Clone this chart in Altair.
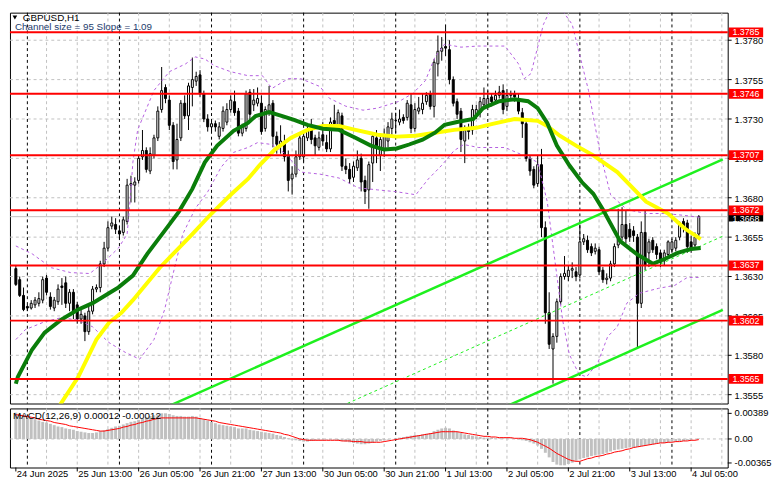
import altair as alt
import pandas as pd

# ---------------- data ----------------
OPEN = [1.3635, 1.3628, 1.3618, 1.3611, 1.3610, 1.3612, 1.3613, 1.3615, 1.3629, 1.3617,
        1.3610, 1.3614, 1.3624, 1.3626, 1.3613, 1.3620, 1.3612, 1.3603, 1.3605, 1.3595,
        1.3608, 1.3622, 1.3623, 1.3638, 1.3648, 1.3662, 1.3663, 1.3659, 1.3658, 1.3665,
        1.3688, 1.3688, 1.3691, 1.3706, 1.3710, 1.3697, 1.3707, 1.3718, 1.3736, 1.3750,
        1.3742, 1.3726, 1.3704, 1.3718, 1.3740, 1.3732, 1.3750, 1.3754, 1.3758, 1.3746,
        1.3730, 1.3725, 1.3727, 1.3719, 1.3724, 1.3728, 1.3736, 1.3741, 1.3735, 1.3721,
        1.3724, 1.3747, 1.3739, 1.3740, 1.3740, 1.3724, 1.3734, 1.3740, 1.3719, 1.3714,
        1.3715, 1.3707, 1.3692, 1.3695, 1.3706, 1.3706, 1.3718, 1.3724, 1.3718, 1.3712,
        1.3720, 1.3715, 1.3711, 1.3729, 1.3726, 1.3732, 1.3700, 1.3698, 1.3693, 1.3699,
        1.3705, 1.3691, 1.3685, 1.3702, 1.3718, 1.3707, 1.3711, 1.3716, 1.3724, 1.3729,
        1.3728, 1.3731, 1.3731, 1.3739, 1.3724, 1.3735, 1.3736, 1.3741, 1.3746, 1.3738,
        1.3765, 1.3773, 1.3776, 1.3774, 1.3755, 1.3741, 1.3735, 1.3716, 1.3724, 1.3723,
        1.3732, 1.3734, 1.3739, 1.3739, 1.3744, 1.3742, 1.3745, 1.3748, 1.3738, 1.3745,
        1.3746, 1.3743, 1.3734, 1.3727, 1.3705, 1.3698, 1.3689, 1.3701, 1.3661, 1.3607,
        1.3584, 1.3592, 1.3614, 1.3630, 1.3630, 1.3634, 1.3633, 1.3631, 1.3652, 1.3653,
        1.3649, 1.3646, 1.3647, 1.3634, 1.3628, 1.3629, 1.3638, 1.3650, 1.3655, 1.3663,
        1.3660, 1.3659, 1.3655, 1.3613, 1.3658, 1.3645, 1.3653, 1.3649, 1.3645, 1.3640,
        1.3644, 1.3647, 1.3648, 1.3655, 1.3665, 1.3664, 1.3652, 1.3650, 1.3657]
HIGH = [1.3637, 1.3630, 1.3623, 1.3612, 1.3615, 1.3617, 1.3620, 1.3630, 1.3631, 1.3620,
        1.3617, 1.3625, 1.3629, 1.3630, 1.3622, 1.3622, 1.3614, 1.3610, 1.3607, 1.3611,
        1.3624, 1.3625, 1.3640, 1.3652, 1.3665, 1.3668, 1.3667, 1.3662, 1.3668, 1.3692,
        1.3694, 1.3693, 1.3707, 1.3723, 1.3712, 1.3712, 1.3720, 1.3738, 1.3763, 1.3752,
        1.3745, 1.3728, 1.3727, 1.3742, 1.3745, 1.3753, 1.3769, 1.3760, 1.3761, 1.3748,
        1.3733, 1.3729, 1.3729, 1.3728, 1.3738, 1.3740, 1.3745, 1.3748, 1.3737, 1.3727,
        1.3748, 1.3749, 1.3749, 1.3750, 1.3745, 1.3738, 1.3751, 1.3742, 1.3722, 1.3726,
        1.3720, 1.3710, 1.3700, 1.3710, 1.3720, 1.3722, 1.3726, 1.3730, 1.3720, 1.3722,
        1.3728, 1.3720, 1.3731, 1.3739, 1.3736, 1.3734, 1.3705, 1.3702, 1.3703, 1.3710,
        1.3708, 1.3694, 1.3703, 1.3721, 1.3723, 1.3720, 1.3724, 1.3728, 1.3734, 1.3734,
        1.3736, 1.3733, 1.3742, 1.3746, 1.3740, 1.3744, 1.3746, 1.3747, 1.3748, 1.3768,
        1.3783, 1.3782, 1.3790, 1.3780, 1.3757, 1.3743, 1.3737, 1.3726, 1.3727, 1.3739,
        1.3739, 1.3744, 1.3750, 1.3748, 1.3746, 1.3748, 1.3751, 1.3752, 1.3749, 1.3748,
        1.3748, 1.3746, 1.3737, 1.3729, 1.3707, 1.3700, 1.3707, 1.3711, 1.3665, 1.3620,
        1.3594, 1.3616, 1.3632, 1.3643, 1.3637, 1.3639, 1.3636, 1.3663, 1.3657, 1.3656,
        1.3651, 1.3651, 1.3649, 1.3636, 1.3632, 1.3640, 1.3651, 1.3673, 1.3674, 1.3672,
        1.3664, 1.3662, 1.3657, 1.3665, 1.3672, 1.3654, 1.3655, 1.3651, 1.3647, 1.3647,
        1.3653, 1.3654, 1.3655, 1.3665, 1.3667, 1.3666, 1.3656, 1.3658, 1.3669]
LOW = [1.3624, 1.3617, 1.3608, 1.3608, 1.3609, 1.3610, 1.3611, 1.3613, 1.3618, 1.3609,
       1.3608, 1.3612, 1.3612, 1.3610, 1.3608, 1.3603, 1.3600, 1.3600, 1.3589, 1.3593,
       1.3606, 1.3620, 1.3620, 1.3636, 1.3646, 1.3660, 1.3657, 1.3654, 1.3656, 1.3663,
       1.3677, 1.3677, 1.3689, 1.3704, 1.3696, 1.3695, 1.3705, 1.3716, 1.3734, 1.3740,
       1.3723, 1.3698, 1.3698, 1.3716, 1.3730, 1.3723, 1.3738, 1.3751, 1.3744, 1.3728,
       1.3722, 1.3722, 1.3722, 1.3717, 1.3722, 1.3726, 1.3734, 1.3732, 1.3719, 1.3719,
       1.3722, 1.3728, 1.3735, 1.3738, 1.3720, 1.3722, 1.3732, 1.3712, 1.3708, 1.3708,
       1.3703, 1.3684, 1.3682, 1.3693, 1.3704, 1.3703, 1.3716, 1.3714, 1.3707, 1.3710,
       1.3713, 1.3709, 1.3709, 1.3725, 1.3724, 1.3697, 1.3695, 1.3689, 1.3690, 1.3697,
       1.3684, 1.3676, 1.3673, 1.3690, 1.3702, 1.3697, 1.3706, 1.3712, 1.3720, 1.3721,
       1.3726, 1.3727, 1.3729, 1.3721, 1.3722, 1.3733, 1.3733, 1.3739, 1.3736, 1.3731,
       1.3757, 1.3767, 1.3770, 1.3752, 1.3738, 1.3730, 1.3709, 1.3702, 1.3717, 1.3720,
       1.3730, 1.3731, 1.3736, 1.3737, 1.3738, 1.3740, 1.3743, 1.3733, 1.3735, 1.3742,
       1.3741, 1.3733, 1.3718, 1.3703, 1.3694, 1.3686, 1.3687, 1.3655, 1.3600, 1.3584,
       1.3562, 1.3588, 1.3612, 1.3628, 1.3627, 1.3629, 1.3627, 1.3629, 1.3650, 1.3645,
       1.3643, 1.3644, 1.3631, 1.3626, 1.3625, 1.3627, 1.3636, 1.3648, 1.3653, 1.3651,
       1.3652, 1.3652, 1.3585, 1.3610, 1.3634, 1.3636, 1.3645, 1.3641, 1.3636, 1.3637,
       1.3642, 1.3645, 1.3646, 1.3653, 1.3658, 1.3645, 1.3645, 1.3648, 1.3655]
CLOSE = [1.3625, 1.3618, 1.3609, 1.3610, 1.3613, 1.3615, 1.3616, 1.3628, 1.3620, 1.3611,
         1.3615, 1.3622, 1.3623, 1.3613, 1.3620, 1.3608, 1.3603, 1.3606, 1.3595, 1.3608,
         1.3622, 1.3623, 1.3638, 1.3648, 1.3661, 1.3664, 1.3660, 1.3657, 1.3666, 1.3688,
         1.3689, 1.3690, 1.3705, 1.3710, 1.3698, 1.3708, 1.3718, 1.3735, 1.3748, 1.3743,
         1.3726, 1.3703, 1.3717, 1.3740, 1.3732, 1.3751, 1.3755, 1.3757, 1.3746, 1.3730,
         1.3725, 1.3727, 1.3725, 1.3725, 1.3735, 1.3736, 1.3742, 1.3734, 1.3721, 1.3725,
         1.3746, 1.3733, 1.3742, 1.3743, 1.3722, 1.3736, 1.3739, 1.3719, 1.3714, 1.3716,
         1.3706, 1.3691, 1.3695, 1.3706, 1.3718, 1.3719, 1.3723, 1.3717, 1.3713, 1.3718,
         1.3716, 1.3711, 1.3728, 1.3727, 1.3734, 1.3700, 1.3698, 1.3692, 1.3700, 1.3704,
         1.3690, 1.3684, 1.3701, 1.3719, 1.3712, 1.3717, 1.3719, 1.3725, 1.3730, 1.3729,
         1.3730, 1.3729, 1.3740, 1.3724, 1.3736, 1.3737, 1.3740, 1.3745, 1.3738, 1.3766,
         1.3773, 1.3775, 1.3775, 1.3755, 1.3740, 1.3733, 1.3717, 1.3723, 1.3722, 1.3736,
         1.3736, 1.3741, 1.3743, 1.3743, 1.3741, 1.3745, 1.3747, 1.3736, 1.3745, 1.3746,
         1.3744, 1.3735, 1.3727, 1.3705, 1.3697, 1.3688, 1.3701, 1.3661, 1.3607, 1.3587,
         1.3592, 1.3614, 1.3630, 1.3632, 1.3634, 1.3635, 1.3630, 1.3652, 1.3654, 1.3647,
         1.3645, 1.3648, 1.3633, 1.3628, 1.3629, 1.3638, 1.3649, 1.3654, 1.3663, 1.3654,
         1.3655, 1.3656, 1.3613, 1.3658, 1.3637, 1.3652, 1.3647, 1.3644, 1.3639, 1.3645,
         1.3652, 1.3652, 1.3653, 1.3664, 1.3662, 1.3649, 1.3648, 1.3655, 1.3668]

# dark green moving average (bar index, price)
GREEN_BAR = [0, 0.5, 4.25, 7.5, 11.75, 16, 20, 24.25, 26.75, 30.5, 34.25, 39.25, 42.5, 46,
             49.25, 52.5, 56.75, 60.5, 62.5, 66, 69.25, 72.5, 76, 80, 84.25, 88.5, 92.5, 96,
             99.25, 102.5, 106, 109.25, 111.75, 115, 119.25, 121.75, 126, 130, 133.5, 136,
             138.5, 141, 144.25, 147.5, 150.5, 153, 157.5, 161.75, 166, 169.25, 172.5, 176, 178.5]
GREEN_MA = [1.35619, 1.35662, 1.35837, 1.35944, 1.36025, 1.36087, 1.36131, 1.36194, 1.36231,
            1.36306, 1.36444, 1.36606, 1.36712, 1.36856, 1.37025, 1.37131, 1.37225, 1.37275,
            1.37319, 1.37344, 1.37319, 1.37294, 1.37263, 1.37238, 1.37231, 1.37181, 1.37131,
            1.37106, 1.37113, 1.37138, 1.37169, 1.37213, 1.37263, 1.37281, 1.37300, 1.37369,
            1.37413, 1.37425, 1.37413, 1.37369, 1.37275, 1.37131, 1.37006, 1.36900, 1.36825,
            1.36725, 1.36525, 1.36444, 1.36381, 1.36413, 1.36450, 1.36475, 1.36481]
# yellow moving average
YELLOW_BAR = [10.5, 11.75, 16.25, 21, 24.25, 27.5, 30.5, 37.5, 46, 51, 56, 60.5, 63.5, 67.5,
              71.75, 76, 80, 84.25, 88.5, 94.25, 99.25, 104.25, 109.25, 114.25, 120, 124.25,
              130, 136, 138.5, 141.75, 146, 150.5, 156.75, 164.25, 170, 174.25, 178.5]
YELLOW_MA = [1.35431, 1.35494, 1.35662, 1.35900, 1.36006, 1.36069, 1.36150, 1.36356, 1.36569,
             1.36700, 1.36819, 1.36919, 1.37006, 1.37106, 1.37181, 1.37231, 1.37256, 1.37256,
             1.37231, 1.37200, 1.37188, 1.37194, 1.37213, 1.37231, 1.37244, 1.37269, 1.37300,
             1.37288, 1.37256, 1.37194, 1.37131, 1.37069, 1.36963, 1.36775, 1.36700, 1.36606,
             1.36538]
# Bollinger bands (violet dashed)
BB_UP_BAR = [0, 4.25, 9.25, 14.25, 19.25, 22.5, 26.75, 29, 29.75, 30.5, 31.75, 36, 40, 44.25,
             46.75, 49.25, 51.75, 56, 60.5, 64.25, 66.75, 71, 74.25, 79.25, 81.75, 86, 90.5,
             94.25, 100, 103.5, 106.75, 109.25, 111.75, 116, 120.5, 127.5, 131, 132.5, 134.25,
             137.5, 140.5, 145, 149.25, 152.25, 155, 159.25, 164.25, 169.25, 174.25, 178.5]
BB_UP = [1.36494, 1.36444, 1.36356, 1.36325, 1.36319, 1.36381, 1.36481, 1.36569, 1.36775,
         1.37025, 1.37231, 1.37481, 1.37600, 1.37650, 1.37694, 1.37681, 1.37638, 1.37600,
         1.37575, 1.37575, 1.37494, 1.37556, 1.37556, 1.37506, 1.37431, 1.37381, 1.37356,
         1.37369, 1.37413, 1.37463, 1.37544, 1.37694, 1.37775, 1.37756, 1.37763, 1.37763,
         1.37650, 1.37556, 1.37588, 1.37900, 1.38056, 1.37900, 1.37481, 1.37088, 1.36819,
         1.36725, 1.36700, 1.36700, 1.36688, 1.36675]
BB_LO_BAR = [0, 2.5, 7.5, 11.75, 16, 20, 24.25, 28.5, 32.25, 36, 38.75, 41, 43.5, 46.75, 50,
             53.5, 56.75, 60.5, 63, 66.75, 70.5, 74.25, 79.25, 84.25, 89.25, 94.25, 99.25,
             104.25, 107.5, 111, 114.25, 116.75, 120.5, 127.5, 133.5, 136, 138.5, 140.5, 142.5,
             144.25, 146.75, 148.75, 151.75, 154.25, 156.75, 159.25, 162.5, 167.5, 171.75, 175,
             178.5]
BB_LO = [1.35900, 1.35963, 1.36013, 1.36038, 1.36025, 1.35981, 1.35881, 1.35819, 1.35775,
         1.35900, 1.36088, 1.36319, 1.36569, 1.36731, 1.36838, 1.36994, 1.37088, 1.37119,
         1.37150, 1.37138, 1.37075, 1.36963, 1.36950, 1.36925, 1.36863, 1.36850, 1.36838,
         1.36819, 1.36919, 1.37006, 1.37100, 1.37138, 1.37119, 1.37119, 1.37056, 1.37025,
         1.36775, 1.36400, 1.36025, 1.35806, 1.35681, 1.35663, 1.35756, 1.35919, 1.35981,
         1.36131, 1.36194, 1.36225, 1.36244, 1.36294, 1.36294]
# linear regression channel end points
CHANNEL_BAR = [40, 184.25]
CHANNEL_UPPER = [1.35479, 1.37044]
CHANNEL_MID = [1.34991, 1.36556]
CHANNEL_LOWER = [1.34523, 1.36088]

LEVELS = [1.3785, 1.3746, 1.3707, 1.3672, 1.3637, 1.3602, 1.3565]
LAST_PRICE = 1.3668

MACD_HIST = [0.0040, 0.0038, 0.0036, 0.0034, 0.0032, 0.0030, 0.0028, 0.0026,
             0.0025, 0.0023, 0.0021, 0.0019, 0.0018, 0.0016, 0.0015, 0.0014,
             0.0012, 0.0011, 0.0010, 0.0009, 0.0009, 0.0010, 0.0012, 0.0013,
             0.0015, 0.0017, 0.0019, 0.0020, 0.0022, 0.0024, 0.0026, 0.0027,
             0.0029, 0.0031, 0.0033, 0.0035, 0.0036, 0.0037, 0.0039, 0.0039,
             0.0038, 0.0036, 0.0035, 0.0035, 0.0034, 0.0034, 0.0035, 0.0034,
             0.0032, 0.0030, 0.0028, 0.0026, 0.0024, 0.0022, 0.0021, 0.0020,
             0.0019, 0.0018, 0.0016, 0.0016, 0.0016, 0.0014, 0.0013, 0.0012,
             0.0011, 0.0010, 0.0009, 0.0008, 0.0006, 0.0005, 0.0003, 0.0001,
             -0.0001, -0.0002, -0.0003, -0.0004, -0.0004, -0.0003, -0.0002, -0.0001,
             -0.0001, -0.0001, -0.0001, -0.0001, -0.0002, -0.0003, -0.0004, -0.0005,
             -0.0006, -0.0007, -0.0008, -0.0008, -0.0007, -0.0006, -0.0004, -0.0003,
             -0.0002, -0.0001, 0.0000, 0.0001, 0.0002, 0.0003, 0.0004, 0.0005,
             0.0006, 0.0006, 0.0007, 0.0008, 0.0009, 0.0012, 0.0014, 0.0016,
             0.0017, 0.0016, 0.0013, 0.0011, 0.0009, 0.0007, 0.0006, 0.0005,
             0.0004, 0.0003, 0.0002, 0.0002, 0.0002, 0.0001, 0.0001, 0.0001,
             0.0001, 0.0001, 0.0000, -0.0001, -0.0002, -0.0003, -0.0005, -0.0007,
             -0.0010, -0.0015, -0.0021, -0.0028, -0.0035, -0.0039, -0.0040, -0.0040,
             -0.0038, -0.0036, -0.0033, -0.0031, -0.0029, -0.0028, -0.0026, -0.0025,
             -0.0024, -0.0023, -0.0021, -0.0019, -0.0017, -0.0016, -0.0015, -0.0014,
             -0.0013, -0.0013, -0.0012, -0.0011, -0.0010, -0.0009, -0.0008, -0.0007,
             -0.0006, -0.0006, -0.0005, -0.0004, -0.0004, -0.0003, -0.0003, -0.0002,
             -0.0001, 0.0000, 0.0001]
MACD_SIGNAL = [0.0037, 0.0036, 0.0035, 0.0034, 0.0033, 0.0032, 0.0030, 0.0029,
               0.0028, 0.0027, 0.0025, 0.0024, 0.0023, 0.0022, 0.0020, 0.0019,
               0.0018, 0.0017, 0.0016, 0.0015, 0.0014, 0.0013, 0.0012, 0.0012,
               0.0013, 0.0014, 0.0015, 0.0016, 0.0018, 0.0019, 0.0021, 0.0022,
               0.0024, 0.0025, 0.0027, 0.0028, 0.0030, 0.0031, 0.0032, 0.0032,
               0.0032, 0.0032, 0.0032, 0.0032, 0.0032, 0.0032, 0.0032, 0.0032,
               0.0031, 0.0030, 0.0029, 0.0028, 0.0027, 0.0025, 0.0024, 0.0023,
               0.0022, 0.0021, 0.0020, 0.0019, 0.0018, 0.0017, 0.0016, 0.0015,
               0.0014, 0.0013, 0.0012, 0.0011, 0.0010, 0.0009, 0.0007, 0.0006,
               0.0004, 0.0002, 0.0000, -0.0001, -0.0002, -0.0002, -0.0002, -0.0002,
               -0.0002, -0.0002, -0.0002, -0.0002, -0.0002, -0.0003, -0.0003, -0.0003,
               -0.0004, -0.0004, -0.0004, -0.0005, -0.0005, -0.0005, -0.0005, -0.0005,
               -0.0004, -0.0003, -0.0002, -0.0001, 0.0000, 0.0001, 0.0002, 0.0003,
               0.0004, 0.0005, 0.0006, 0.0007, 0.0008, 0.0009, 0.0010, 0.0011,
               0.0011, 0.0011, 0.0011, 0.0011, 0.0010, 0.0009, 0.0008, 0.0007,
               0.0006, 0.0005, 0.0004, 0.0004, 0.0003, 0.0003, 0.0002, 0.0002,
               0.0002, 0.0002, 0.0001, 0.0001, 0.0001, 0.0000, -0.0001, -0.0003,
               -0.0005, -0.0008, -0.0011, -0.0014, -0.0018, -0.0022, -0.0025, -0.0028,
               -0.0031, -0.0033, -0.0034, -0.0034, -0.0032, -0.0030, -0.0029, -0.0027,
               -0.0026, -0.0025, -0.0023, -0.0022, -0.0020, -0.0019, -0.0018, -0.0016,
               -0.0015, -0.0013, -0.0012, -0.0011, -0.0010, -0.0009, -0.0008, -0.0007,
               -0.0006, -0.0006, -0.0005, -0.0005, -0.0004, -0.0004, -0.0003, -0.0003,
               -0.0002, -0.0002, -0.0001]

X_TICK_BARS = [0, 16, 32, 48, 64, 80, 96, 112, 128, 144, 160, 176]
X_TICK_LABELS = ["24 Jun 2025", "25 Jun 13:00", "26 Jun 05:00", "26 Jun 21:00",
                 "27 Jun 13:00", "30 Jun 05:00", "30 Jun 21:00", "1 Jul 13:00",
                 "2 Jul 05:00", "2 Jul 21:00", "3 Jul 13:00", "4 Jul 05:00"]
GRID_BARS = [8, 16, 24, 32, 40, 48, 56, 64, 72, 80, 88, 96, 104, 112, 120, 128, 136, 144,
             152, 160, 168, 176, 184]
DAY_START_BARS = [3, 27, 51, 75, 99, 123, 147, 171]
Y_TICKS = [1.3555, 1.3580, 1.3605, 1.3630, 1.3655, 1.3680, 1.3705, 1.3730, 1.3755, 1.3780]
MACD_TICKS = [0.00389, 0.0, -0.00365]
MACD_TICK_TEXT = ["0.00389", "0.00", "-0.00365"]

SYMBOL_TITLE = "GBPUSD,H1"
CHANNEL_TITLE = "Channel size = 95 Slope = 1.09"
MACD_TITLE = "MACD(12,26,9) 0.00012 -0.00012"

# ---------------- chart ----------------
FONT = "Liberation Sans"
FS = 9.5
PLOT_W = 729
MAIN_H = 397
MACD_H = 60
GRID_C = "#c0c0c0"
BOX_X1, BOX_X2 = 730, 765
LABEL_X = 736

XS = alt.Scale(domain=[-0.25, 184.25], nice=False, zero=False)
YS = alt.Scale(domain=[1.354938, 1.37975], nice=False, zero=False)
MS = alt.Scale(domain=[-0.004339, 0.004638], nice=False, zero=False)


def xq(field="bar:Q"):
    return alt.X(field, scale=XS, axis=None)


def yq(field, scale=YS):
    return alt.Y(field, scale=scale, axis=None)


candles = pd.DataFrame({"bar": list(range(len(CLOSE))), "open": OPEN, "high": HIGH,
                        "low": LOW, "close": CLOSE})
grid_df = pd.DataFrame({"bar": GRID_BARS})
day_df = pd.DataFrame({"bar": DAY_START_BARS})
ytick_df = pd.DataFrame({"v": Y_TICKS})
levels_df = pd.DataFrame({"level": LEVELS})
last_df = pd.DataFrame({"level": [LAST_PRICE]})
green_df = pd.DataFrame({"bar": GREEN_BAR, "price": GREEN_MA})
yellow_df = pd.DataFrame({"bar": YELLOW_BAR, "price": YELLOW_MA})
bb_df = pd.concat([
    pd.DataFrame({"bar": BB_UP_BAR, "price": BB_UP, "band": "upper"}),
    pd.DataFrame({"bar": BB_LO_BAR, "price": BB_LO, "band": "lower"}),
])
chan_solid = pd.concat([
    pd.DataFrame({"bar": CHANNEL_BAR, "price": CHANNEL_UPPER, "line": "upper"}),
    pd.DataFrame({"bar": CHANNEL_BAR, "price": CHANNEL_LOWER, "line": "lower"}),
])
chan_mid = pd.DataFrame({"bar": CHANNEL_BAR, "price": CHANNEL_MID})
macd_df = pd.DataFrame({"bar": list(range(len(MACD_HIST))), "hist": MACD_HIST,
                        "signal": MACD_SIGNAL})
mtick_df = pd.DataFrame({"v": MACD_TICKS, "t": MACD_TICK_TEXT})
xtick_df = pd.DataFrame({"bar": X_TICK_BARS, "t": X_TICK_LABELS})

# ---- main price panel ----
hgrid = alt.Chart(ytick_df).mark_rule(color=GRID_C, strokeDash=[3, 3], strokeWidth=1).encode(
    y=yq("v:Q"))
vgrid = alt.Chart(grid_df).mark_rule(color=GRID_C, strokeDash=[3, 3], strokeWidth=1).encode(x=xq())
vday = alt.Chart(day_df).mark_rule(color="black", strokeDash=[3, 3], strokeWidth=1).encode(x=xq())
last_line = alt.Chart(last_df).mark_rule(color=GRID_C, strokeWidth=1).encode(y=yq("level:Q"))

wicks = alt.Chart(candles).mark_rule(color="black", strokeWidth=1).encode(
    x=xq(), y=yq("low:Q"), y2="high:Q")
bodies = alt.Chart(candles).mark_bar(size=2, stroke="black", strokeWidth=1).encode(
    x=xq(), y=yq("open:Q"), y2="close:Q",
    fill=alt.condition("datum.close >= datum.open", alt.value("white"), alt.value("black")))

bb = alt.Chart(bb_df).mark_line(clip=True, color="#b45ee0", strokeWidth=1,
                                strokeDash=[3, 3]).encode(
    x=xq(), y=yq("price:Q"), detail="band:N")
chan = alt.Chart(chan_solid).mark_line(clip=True, color="#1ef01e", strokeWidth=2.5).encode(
    x=xq(), y=yq("price:Q"), detail="line:N")
chan_m = alt.Chart(chan_mid).mark_line(clip=True, color="#1ef01e", strokeWidth=1,
                                       strokeDash=[3, 3]).encode(x=xq(), y=yq("price:Q"))
yellow = alt.Chart(yellow_df).mark_line(clip=True, color="#ffff00", strokeWidth=4).encode(
    x=xq(), y=yq("price:Q"))
green = alt.Chart(green_df).mark_line(clip=True, color="#0a7d0a", strokeWidth=4).encode(
    x=xq(), y=yq("price:Q"))
red_lines = alt.Chart(levels_df).mark_rule(color="#ff0000", strokeWidth=2).encode(
    y=yq("level:Q"))

# right-hand price scale (ticks + labels)
ytick_marks = alt.Chart(ytick_df).mark_rule(color="black", strokeWidth=1).encode(
    x=alt.value(PLOT_W), x2=alt.value(PLOT_W + 4), y=yq("v:Q"))
ytick_text = alt.Chart(ytick_df).mark_text(align="left", baseline="middle", fontSize=FS,
                                           font=FONT, color="black", dy=1).encode(
    x=alt.value(LABEL_X), y=yq("v:Q"), text=alt.Text("v:Q", format=".4f"))

BOX_HALF = 0.00031
last_box = alt.Chart(last_df).transform_calculate(
    top=f"datum.level + {BOX_HALF}", bot=f"datum.level - {BOX_HALF}"
).mark_rect(color="black").encode(
    x=alt.value(BOX_X1), x2=alt.value(BOX_X2), y=yq("top:Q"), y2="bot:Q")
last_txt = alt.Chart(last_df).mark_text(color="white", fontSize=9, font=FONT,
                                        align="center", baseline="middle", dy=2).encode(
    x=alt.value((BOX_X1 + BOX_X2) / 2), y=yq("level:Q"),
    text=alt.Text("level:Q", format=".4f"))
lvl_box = alt.Chart(levels_df).transform_calculate(
    top=f"datum.level + {BOX_HALF}", bot=f"datum.level - {BOX_HALF}"
).mark_rect(color="#ff0000").encode(
    x=alt.value(BOX_X1), x2=alt.value(BOX_X2), y=yq("top:Q"), y2="bot:Q")
lvl_txt = alt.Chart(levels_df).mark_text(color="white", fontSize=9, font=FONT,
                                         align="center", baseline="middle").encode(
    x=alt.value((BOX_X1 + BOX_X2) / 2), y=yq("level:Q"),
    text=alt.Text("level:Q", format=".4f"))

one = pd.DataFrame({"t": [SYMBOL_TITLE]})
tri = alt.Chart(one).mark_point(shape="triangle-down", filled=True, size=22, color="black",
                                opacity=1).encode(x=alt.value(5), y=alt.value(5))
sym_txt = alt.Chart(one).mark_text(align="left", baseline="top", fontSize=10, font=FONT,
                                   color="black").encode(
    x=alt.value(13), y=alt.value(0), text="t:N")
chan_txt = alt.Chart(pd.DataFrame({"t": [CHANNEL_TITLE]})).mark_text(
    align="left", baseline="middle", fontSize=10, font=FONT, color="#1d3c6c").encode(
    x=alt.value(5), y=alt.value(15), text="t:N")

main = alt.layer(hgrid, vgrid, vday, last_line, wicks, bodies, bb, chan, chan_m, yellow,
                 green, red_lines, ytick_marks, ytick_text, last_box, last_txt, lvl_box,
                 lvl_txt, tri, sym_txt, chan_txt).properties(width=PLOT_W, height=MAIN_H)

# ---- MACD panel ----
m_vgrid = alt.Chart(grid_df).mark_rule(color=GRID_C, strokeDash=[3, 3], strokeWidth=1).encode(x=xq())
m_vday = alt.Chart(day_df).mark_rule(color="black", strokeDash=[3, 3], strokeWidth=1).encode(x=xq())
m_zero = alt.Chart(pd.DataFrame({"v": [0.0]})).mark_rule(
    color=GRID_C, strokeDash=[3, 3], strokeWidth=1).encode(y=yq("v:Q", MS))
hist = alt.Chart(macd_df).transform_calculate(zero="0").mark_bar(size=3, color="#c0c0c0").encode(
    x=xq(), y=yq("hist:Q", MS), y2="zero:Q")
signal = alt.Chart(macd_df).mark_line(color="#ff0000", strokeWidth=1).encode(
    x=xq(), y=yq("signal:Q", MS))
macd_txt = alt.Chart(pd.DataFrame({"t": [MACD_TITLE]})).mark_text(
    align="left", baseline="middle", fontSize=10, font=FONT, color="black").encode(
    x=alt.value(3), y=alt.value(8), text="t:N")
mtick_marks = alt.Chart(mtick_df).mark_rule(color="black", strokeWidth=1).encode(
    x=alt.value(PLOT_W), x2=alt.value(PLOT_W + 4), y=yq("v:Q", MS))
mtick_text = alt.Chart(mtick_df).mark_text(align="left", baseline="middle", fontSize=FS,
                                           font=FONT, color="black").encode(
    x=alt.value(LABEL_X), y=yq("v:Q", MS), text="t:N")
xtick_marks = alt.Chart(xtick_df).mark_rule(color="black", strokeWidth=1).encode(
    x=xq(), y=alt.value(MACD_H), y2=alt.value(MACD_H + 4))
xtick_text = alt.Chart(xtick_df).mark_text(align="left", baseline="alphabetic", fontSize=FS,
                                           font=FONT, color="black", dx=1).encode(
    x=xq(), y=alt.value(MACD_H + 10), text="t:N")

macd = alt.layer(m_vgrid, m_vday, m_zero, hist, signal, macd_txt, mtick_marks, mtick_text,
                 xtick_marks, xtick_text).properties(width=PLOT_W, height=MACD_H)

chart = alt.vconcat(main, macd, spacing=3).properties(
    padding={"left": 0, "top": 0, "right": 0, "bottom": 0},
    background="white",
).configure_view(stroke="black", strokeWidth=1)

chart.save("out.html", embed_options={"renderer": "svg", "actions": False})
